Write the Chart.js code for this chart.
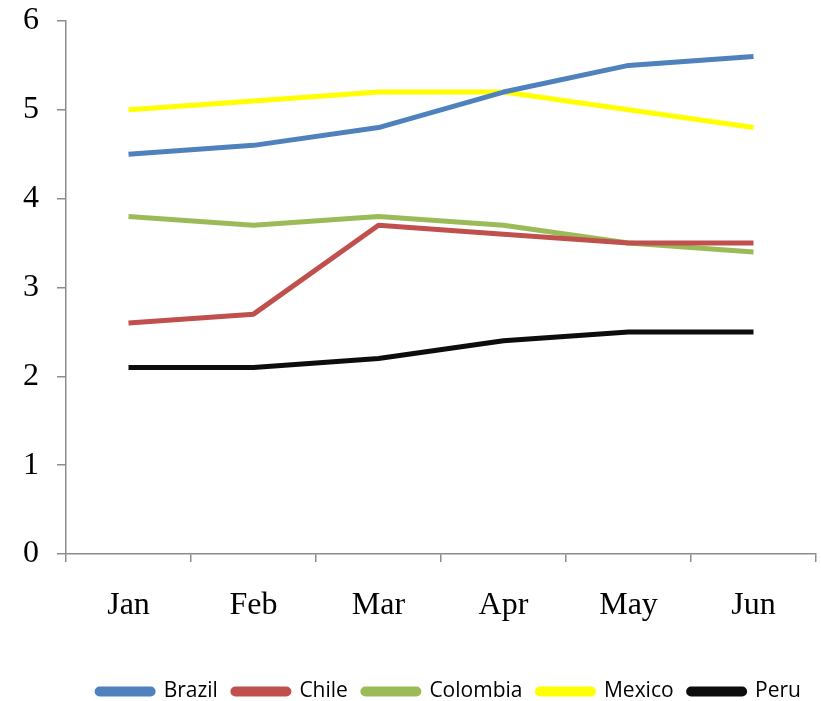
<!DOCTYPE html>
<html>
<head>
<meta charset="utf-8">
<script src="https://cdn.jsdelivr.net/npm/chart.js@4/dist/chart.umd.min.js"></script>
<style>
  html, body { margin: 0; padding: 0; background: #fff; overflow: hidden; }
  #wrap { width: 821px; height: 712px; }
</style>
</head>
<body>
<div id="wrap"><canvas id="lineChart" width="821" height="712"></canvas></div>
<script>
const months = ['Jan', 'Feb', 'Mar', 'Apr', 'May', 'Jun'];
const brazil = [4.5, 4.6, 4.8, 5.2, 5.5, 5.6];
const chile = [2.6, 2.7, 3.7, 3.6, 3.5, 3.5];
const colombia = [3.8, 3.7, 3.8, 3.7, 3.5, 3.4];
const mexico = [5.0, 5.1, 5.2, 5.2, 5.0, 4.8];
const peru = [2.1, 2.1, 2.2, 2.4, 2.5, 2.5];

const axisGray = '#8c8c8c';
const serif = "'Liberation Serif', 'Times New Roman', serif";

function series(label, data, color) {
    return {
        label: label,
        data: data,
        borderColor: color,
        backgroundColor: color,
        borderWidth: 5,
        pointRadius: 0,
        tension: 0,
        borderJoinStyle: 'round',
        borderCapStyle: 'butt'
    };
}

new Chart(document.getElementById('lineChart'), {
    type: 'line',
    data: {
        labels: months,
        datasets: [
            series('Brazil', brazil, '#4f81bd'),
            series('Chile', chile, '#c0504d'),
            series('Colombia', colombia, '#9bbb59'),
            series('Mexico', mexico, '#ffff00'),
            series('Peru', peru, '#0d0d0d')
        ]
    },
    options: {
        responsive: false,
        animation: false,
        layout: { padding: { top: 21, right: 5, left: 0, bottom: 0 } },
        plugins: {
            tooltip: { enabled: false },
            legend: {
                position: 'bottom',
                align: 'end',
                labels: {
                    color: '#000',
                    font: { family: "'Open Sans', 'DejaVu Sans', sans-serif", size: 21 },
                    boxWidth: 56,
                    boxHeight: 5,
                    useBorderRadius: true,
                    borderRadius: 2.5,
                    padding: 15
                }
            }
        },
        scales: {
            x: {
                offset: true,
                grid: {
                    offset: true,
                    drawOnChartArea: false,
                    color: axisGray,
                    tickLength: 8,
                    lineWidth: 1.5
                },
                border: { color: axisGray, width: 1.5 },
                ticks: {
                    color: '#000',
                    font: { family: serif, size: 32 },
                    padding: 24,
                    maxRotation: 0
                },
                afterFit: function(scale) { scale.height = 112; }
            },
            y: {
                min: 0,
                max: 6,
                grid: {
                    drawOnChartArea: false,
                    color: axisGray,
                    tickLength: 9,
                    lineWidth: 1.5
                },
                border: { color: axisGray, width: 1.5 },
                ticks: {
                    stepSize: 1,
                    color: '#000',
                    font: { family: serif, size: 32 },
                    padding: 18
                },
                afterFit: function(scale) {
                    scale.width = 66;
                    // let the top label hang above the plot instead of pushing it down
                    scale.paddingTop = 0;
                    scale.paddingBottom = 0;
                }
            }
        }
    }
});
</script>
</body>
</html>
